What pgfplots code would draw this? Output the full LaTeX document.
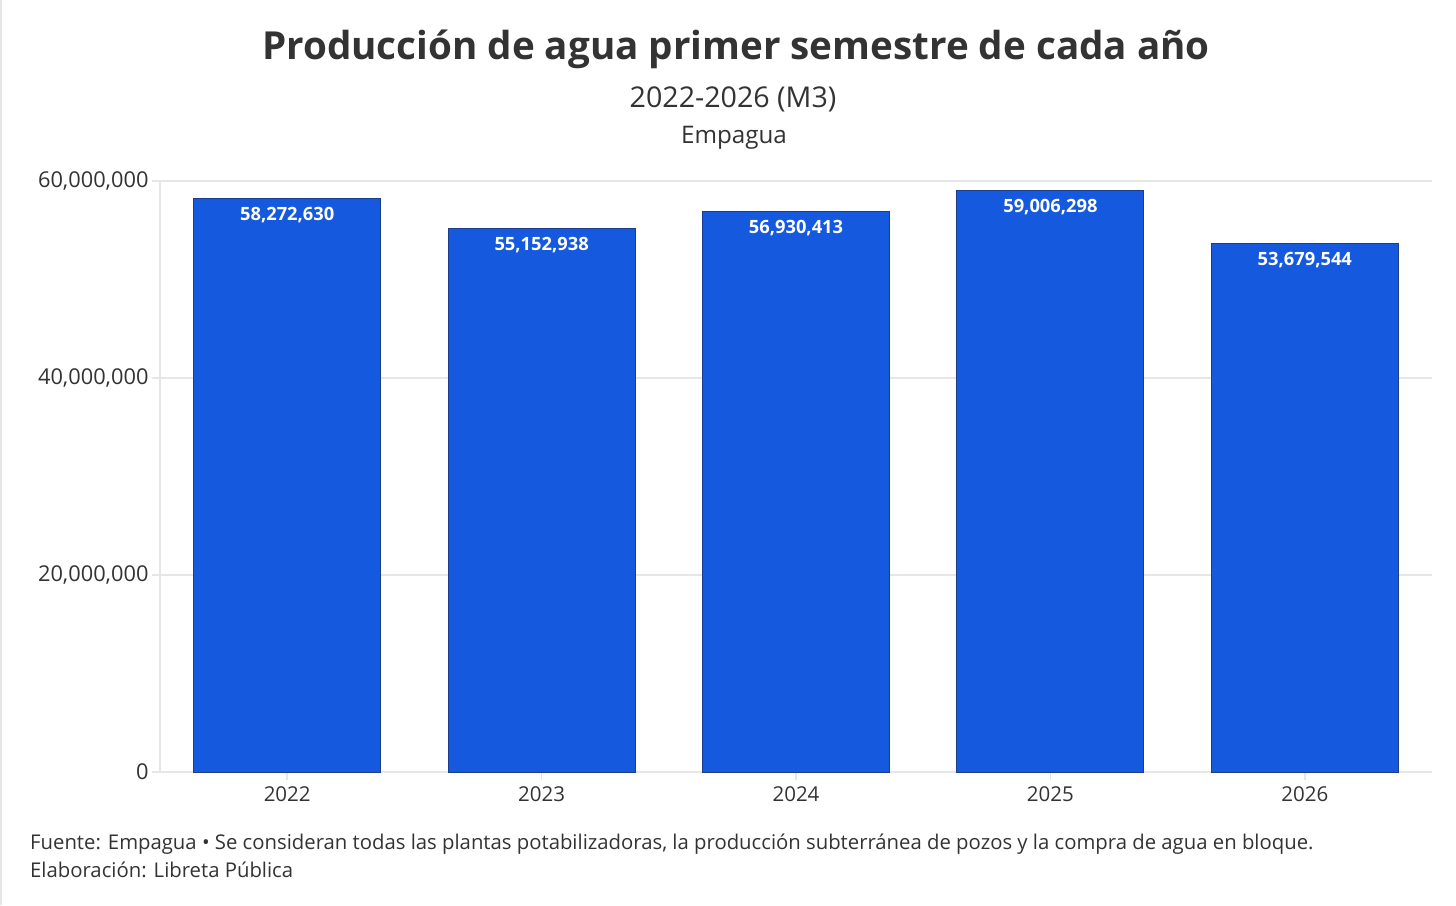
\documentclass[border=0pt]{standalone}
\usepackage{pgfplots}
\pgfplotsset{compat=1.18}
\usepackage{pgfplotstable}
\usepackage{fontspec}
\setmainfont{Open Sans}
\definecolor{barblue}{HTML}{1559DF}
\definecolor{baredge}{HTML}{1E3C8C}
\definecolor{txt}{HTML}{333333}
\definecolor{gridc}{HTML}{E6E6E6}

\pgfplotstableread{
x y label
0 58272630 58,272,630
1 55152938 55,152,938
2 56930413 56,930,413
3 59006298 59,006,298
4 53679544 53,679,544
}\datatable

\begin{document}
\begin{tikzpicture}[x=1pt,y=1pt]
\path[use as bounding box] (0,0) rectangle (1456,905);
\fill[white] (0,0) rectangle (1456,905);
\draw[gridc, line width=1.5pt] (1,0) -- (1,905);
\begin{axis}[
  at={(160pt,133pt)}, anchor=south west,
  scale only axis, width=1272pt, height=591pt,
  xmin=-0.5, xmax=4.5, ymin=0, ymax=60000000,
  scaled y ticks=false,
  ytick={0,20000000,40000000,60000000},
  yticklabels={0,{20,000,000},{40,000,000},{60,000,000}},
  xtick={0,1,2,3,4},
  xticklabels={2022,2023,2024,2025,2026},
  axis x line*=bottom, axis y line*=left,
  axis line style={gridc, line width=1.5pt},
  ymajorgrids, grid style={gridc, line width=1.5pt},
  tick style={gridc, line width=1.5pt},
  major tick length=8pt, tick align=outside,
  ticklabel style={font=\fontsize{20.5}{22}\selectfont, text=txt},
  yticklabel style={font=\fontsize{21.8}{22}\selectfont},
  xticklabel style={yshift=-3pt},
  ybar, bar width=187pt,
  clip=false,
]
\addplot[fill=barblue, draw=baredge, line width=1pt,
  nodes near coords, point meta=explicit symbolic,
  every node near coord/.append style={anchor=north, yshift=-5pt,
    font=\bfseries\fontsize{18.3}{19}\selectfont, text=white}]
  table[x=x,y=y,meta=label]{\datatable};
\end{axis}
\node[font=\bfseries\fontsize{38.6}{40}\selectfont, text=txt] at (736,856) {Producción de agua primer semestre de cada año};
\node[font=\fontsize{28.6}{30}\selectfont, text=txt] at (733,806) {2022-2026 (M3)};
\node[font=\fontsize{24.2}{26}\selectfont, text=txt] at (734,767) {Empagua};
\node[anchor=west, inner sep=0pt, font=\fontsize{20.3}{22}\selectfont, text=txt] at (30,61) {Fuente: Empagua • Se consideran todas las plantas potabilizadoras, la producción subterránea de pozos y la compra de agua en bloque.};
\node[anchor=west, inner sep=0pt, font=\fontsize{20.3}{22}\selectfont, text=txt] at (30,35) {Elaboración: Libreta Pública};
\end{tikzpicture}
\end{document}
